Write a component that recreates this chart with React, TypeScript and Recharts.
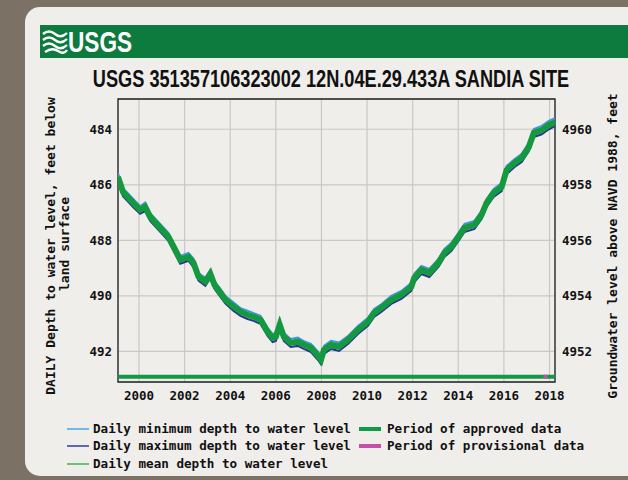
import { LineChart, Line, XAxis, YAxis, CartesianGrid, ReferenceArea } from 'recharts';

// decimal years of the readings
const years = [
  1999.08, 1999.3, 1999.74, 2000.05, 2000.27, 2000.49, 2000.93, 2001.29, 2001.59, 2001.81,
  2002.17, 2002.39, 2002.61, 2002.91, 2003.13, 2003.31, 2003.57, 2003.79, 2004.15, 2004.45,
  2004.76, 2005.03, 2005.33, 2005.64, 2005.86, 2006.0, 2006.17, 2006.35, 2006.65, 2006.96,
  2007.23, 2007.54, 2007.84, 2007.98, 2008.11, 2008.42, 2008.77, 2009.16, 2009.6, 2010.04,
  2010.31, 2010.62, 2011.06, 2011.5, 2011.94, 2012.07, 2012.38, 2012.73, 2013.13, 2013.39,
  2013.7, 2014.01, 2014.27, 2014.71, 2015.02, 2015.24, 2015.55, 2015.9, 2016.12, 2016.47,
  2016.78, 2017.09, 2017.31, 2017.66, 2017.97, 2018.23,
];

const meanDepth = [
  485.72, 486.26, 486.65, 486.9, 486.79, 487.15, 487.55, 487.87, 488.34, 488.7,
  488.59, 488.81, 489.31, 489.49, 489.21, 489.6, 489.89, 490.14, 490.39, 490.57,
  490.68, 490.75, 490.86, 491.29, 491.51, 491.47, 491.04, 491.47, 491.69, 491.65,
  491.76, 491.87, 492.15, 492.3, 491.94, 491.76, 491.83, 491.58, 491.22, 490.93,
  490.61, 490.43, 490.14, 489.96, 489.67, 489.35, 489.06, 489.17, 488.81, 488.45,
  488.23, 487.87, 487.55, 487.44, 487.08, 486.65, 486.29, 486.08, 485.46, 485.21,
  485.03, 484.64, 484.13, 484.03, 483.85, 483.74,
];

const minDepth = [
  485.58, 486.12, 486.5, 486.77, 486.64, 487.02, 487.41, 487.73, 488.21, 488.56,
  488.45, 488.66, 489.18, 489.35, 489.06, 489.47, 489.75, 490.0, 490.24, 490.44,
  490.53, 490.62, 490.72, 491.15, 491.38, 491.33, 490.88, 491.33, 491.55, 491.5,
  491.63, 491.73, 492.0, 492.14, 491.8, 491.62, 491.68, 491.45, 491.08, 490.79,
  490.47, 490.3, 490.0, 489.82, 489.53, 489.2, 488.92, 489.03, 488.67, 488.31,
  488.09, 487.73, 487.41, 487.3, 486.94, 486.51, 486.15, 485.94, 485.32, 485.07,
  484.88, 484.5, 483.99, 483.88, 483.7, 483.6,
];

const maxDepth = [
  485.86, 486.41, 486.8, 487.04, 486.95, 487.3, 487.69, 488.02, 488.49, 488.84,
  488.74, 488.96, 489.45, 489.64, 489.36, 489.74, 490.04, 490.28, 490.54, 490.72,
  490.83, 490.9, 491.01, 491.44, 491.66, 491.62, 491.19, 491.62, 491.84, 491.8,
  491.91, 492.02, 492.3, 492.46, 492.09, 491.91, 491.98, 491.73, 491.37, 491.08,
  490.76, 490.58, 490.29, 490.11, 489.82, 489.5, 489.21, 489.32, 488.96, 488.6,
  488.38, 488.02, 487.7, 487.59, 487.23, 486.8, 486.44, 486.23, 485.61, 485.36,
  485.18, 484.79, 484.28, 484.18, 484.0, 483.89,
];

const approvedPeriods = [[1999.08, 2018.24]];
const provisionalPeriods = [[2017.73, 2017.9]];

const yearTicks = [2000, 2002, 2004, 2006, 2008, 2010, 2012, 2014, 2016, 2018];
const depthTicks = [484, 486, 488, 490, 492];
const elevTicks = [4952, 4954, 4956, 4958, 4960];
const landSurface = 5444; // depth + elevation

const X_DOMAIN = [1999.08, 2018.24];
const DEPTH_DOMAIN = [482.91, 493.1];
const BAR_DEPTH = 492.91;

const MONO = '"DejaVu Sans Mono", monospace';
const tickStyle = { fontFamily: MONO, fontWeight: 700, fontSize: 12.5, fill: '#111' };

const toPoints = (vals: number[]) => years.map((year, i) => ({ year, v: vals[i] }));
const periodPoints = (p: number[]) => [
  { year: p[0], v: BAR_DEPTH },
  { year: p[1], v: BAR_DEPTH },
];

function Backdrop() {
  const legendText = { fontFamily: MONO, fontWeight: 700, fontSize: 12.6, fill: '#111' };
  return (
    <svg width={628} height={480} style={{ position: 'absolute', left: 0, top: 0 }}>
      <rect x={0} y={0} width={628} height={480} fill="#7b7165" />
      <rect x={25} y={7} width={640} height={469} rx={15} fill="#efeeeb" />
      {/* header bar */}
      <rect x={40} y={25} width={600} height={33} fill="#0d7a3e" />
      <g stroke="#fff" strokeWidth={2.4} fill="none">
        <path d="M43 34 Q49 29 55 34 T67 33" />
        <path d="M43 40 Q49 35 55 40 T67 39" />
        <path d="M43 46 Q49 41 55 46 T67 45" />
        <path d="M45 52 Q52 47 58 51 T67 50" />
      </g>
      <text transform="translate(68,52) scale(0.78,1)" fill="#fff" fontFamily="Liberation Sans"
        fontWeight={700} fontSize={29}>USGS</text>
      {/* title */}
      <text transform="translate(331,87) scale(0.79,1)" textAnchor="middle" fill="#111"
        fontFamily="Liberation Sans" fontWeight={700} fontSize={23}>
        USGS 351357106323002 12N.04E.29.433A SANDIA SITE
      </text>
      {/* axis titles */}
      <g style={{ fontFamily: MONO, fontWeight: 700, fontSize: 13 }} fill="#111">
        <text transform="translate(55,246) rotate(-90)" textAnchor="middle">DAILY Depth to water level, feet below</text>
        <text transform="translate(69,244) rotate(-90)" textAnchor="middle">land surface</text>
        <text transform="translate(617,246) rotate(-90)" textAnchor="middle">Groundwater level above NAVD 1988, feet</text>
      </g>
      {/* legend */}
      <line x1={67} x2={89} y1={429} y2={429} stroke="#4ba3e3" strokeWidth={1.5} />
      <line x1={67} x2={89} y1={446} y2={446} stroke="#2b3d97" strokeWidth={1.5} />
      <line x1={67} x2={89} y1={464} y2={464} stroke="#3bb54a" strokeWidth={1.5} />
      <text x={93} y={433} {...legendText}>Daily minimum depth to water level</text>
      <text x={93} y={450} {...legendText}>Daily maximum depth to water level</text>
      <text x={93} y={468} {...legendText}>Daily mean depth to water level</text>
      <line x1={359} x2={381} y1={429} y2={429} stroke="#109a46" strokeWidth={4} />
      <line x1={359} x2={381} y1={446} y2={446} stroke="#c54fa9" strokeWidth={4} />
      <text x={387} y={433} {...legendText}>Period of approved data</text>
      <text x={387} y={450} {...legendText}>Period of provisional data</text>
    </svg>
  );
}

export default function App() {
  return (
    <div style={{ position: 'absolute', left: 0, top: 0, width: 628, height: 480, overflow: 'hidden' }}>
      <Backdrop />
      <div style={{ position: 'absolute', left: 0, top: 0 }}>
        <LineChart width={628} height={480} margin={{ top: 99, right: 33, bottom: 68, left: 68 }}>
          <CartesianGrid yAxisId="left" stroke="#c8c8c6" strokeWidth={1.2} />
          <XAxis type="number" dataKey="year" domain={X_DOMAIN} allowDataOverflow ticks={yearTicks}
            height={30} tickSize={0} tickMargin={9} axisLine={false} tickLine={false} tick={tickStyle} />
          <YAxis yAxisId="left" type="number" reversed domain={DEPTH_DOMAIN} allowDataOverflow ticks={depthTicks}
            width={50} tickSize={0} tickMargin={6} axisLine={false} tickLine={false} tick={tickStyle} />
          <YAxis yAxisId="right" orientation="right" type="number" allowDataOverflow
            domain={[landSurface - DEPTH_DOMAIN[1], landSurface - DEPTH_DOMAIN[0]]} ticks={elevTicks}
            width={40} tickSize={0} tickMargin={7} axisLine={false} tickLine={false} tick={tickStyle} />
          {approvedPeriods.map((p, i) => (
            <Line key={`ap-${i}`} yAxisId="left" data={periodPoints(p)} dataKey="v" stroke="#109a46"
              strokeWidth={4} dot={false} isAnimationActive={false} strokeLinecap="butt" />
          ))}
          {provisionalPeriods.map((p, i) => (
            <Line key={`pp-${i}`} yAxisId="left" data={periodPoints(p)} dataKey="v" stroke="#c54fa9"
              strokeWidth={4} dot={false} isAnimationActive={false} strokeLinecap="butt" />
          ))}
          <Line yAxisId="left" data={toPoints(minDepth)} dataKey="v" stroke="#3f98de" strokeWidth={2}
            dot={false} isAnimationActive={false} />
          <Line yAxisId="left" data={toPoints(maxDepth)} dataKey="v" stroke="#27358f" strokeWidth={2}
            dot={false} isAnimationActive={false} />
          <Line yAxisId="left" data={toPoints(meanDepth)} dataKey="v" stroke="#15993f" strokeWidth={6}
            dot={false} isAnimationActive={false} />
          <ReferenceArea yAxisId="left" x1={X_DOMAIN[0]} x2={X_DOMAIN[1]} y1={DEPTH_DOMAIN[0]} y2={DEPTH_DOMAIN[1]}
            fill="none" stroke="#222" strokeWidth={1.3} ifOverflow="visible" />
        </LineChart>
      </div>
    </div>
  );
}
